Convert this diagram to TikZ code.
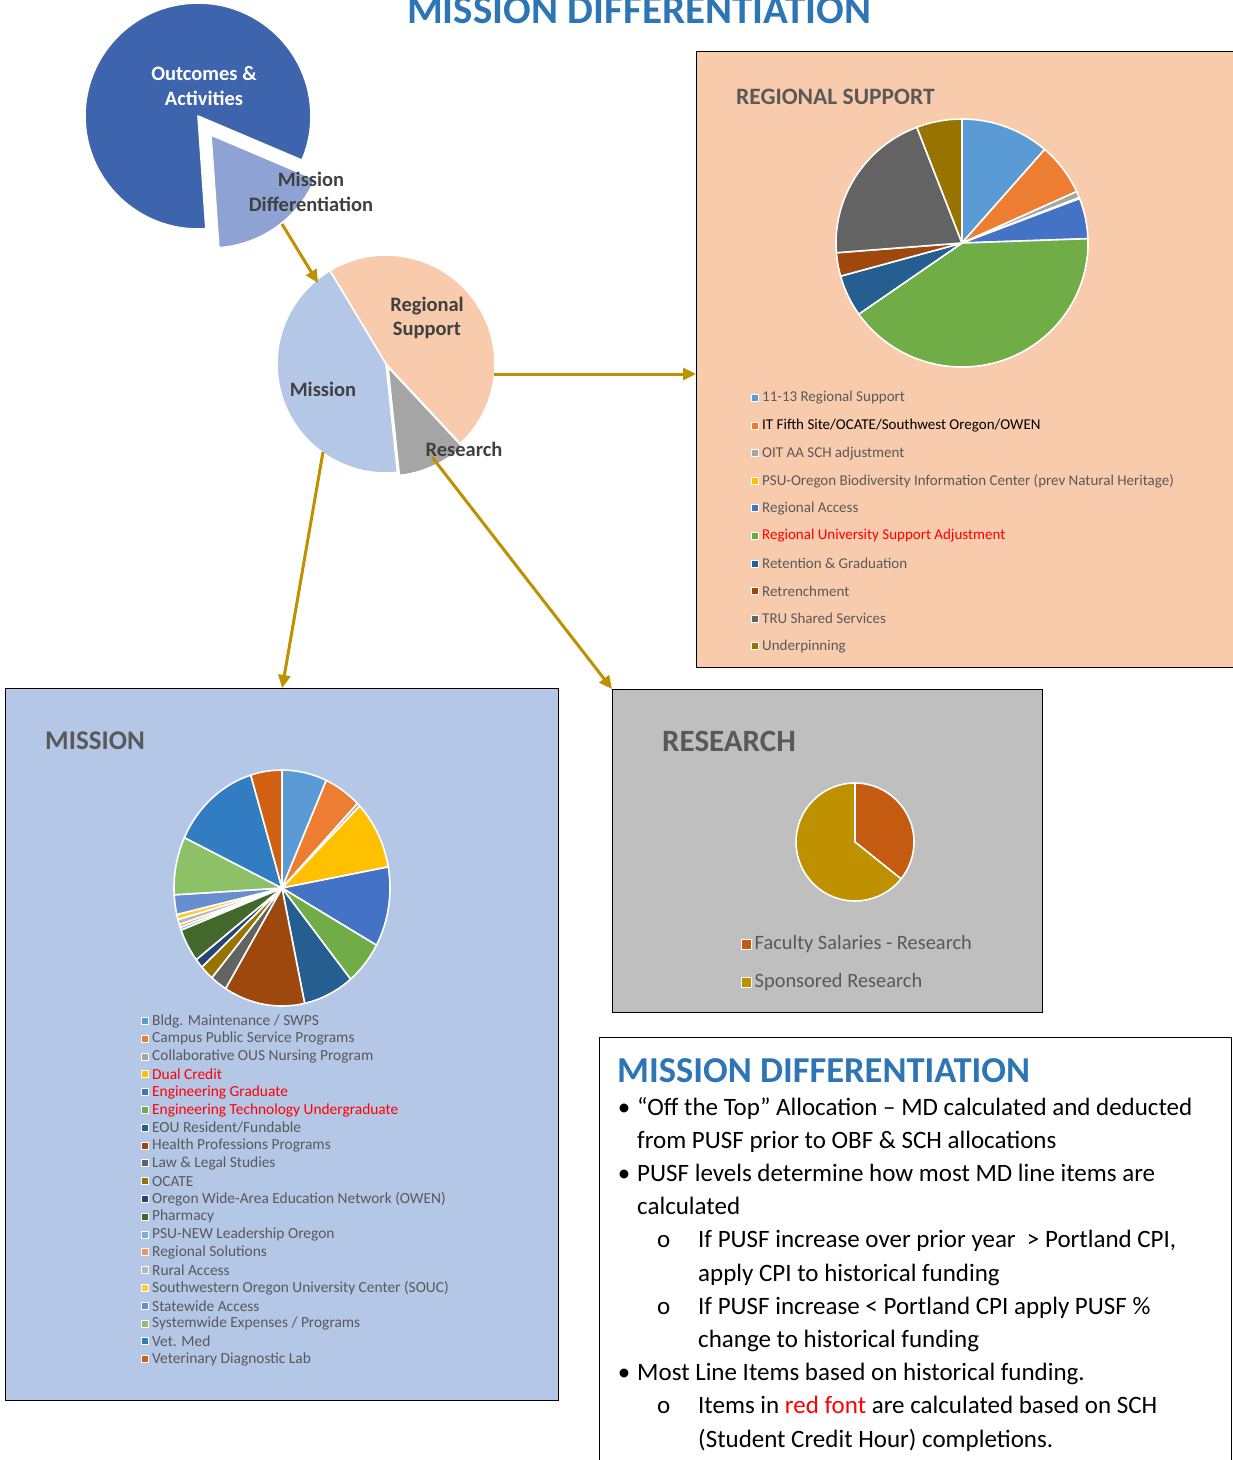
\documentclass[tikz,border=0pt]{standalone}
\usepackage{fontspec}
\setmainfont{Carlito}
\usetikzlibrary{arrows.meta, positioning}

\definecolor{mdblue}{HTML}{2E75B6}
\definecolor{labgray}{HTML}{595959}
\definecolor{darklab}{HTML}{404040}
\definecolor{linkgold}{HTML}{BF9000}
\definecolor{oadark}{HTML}{3D64AD}
\definecolor{mdlight}{HTML}{8FA2D4}
\definecolor{peach}{HTML}{F8CBAD}
\definecolor{misblue}{HTML}{B4C7E7}
\definecolor{resgray}{HTML}{A5A5A5}
\definecolor{boxgray}{HTML}{BFBFBF}
\definecolor{facorange}{HTML}{C55A11}
\definecolor{sponsgold}{HTML}{BF9000}
% chart series colours
\definecolor{c1}{HTML}{5B9BD5}
\definecolor{c2}{HTML}{ED7D31}
\definecolor{c3}{HTML}{A5A5A5}
\definecolor{c4}{HTML}{FFC000}
\definecolor{c5}{HTML}{4472C4}
\definecolor{c6}{HTML}{70AD47}
\definecolor{c7}{HTML}{255E91}
\definecolor{c8}{HTML}{9E480E}
\definecolor{c9}{HTML}{636363}
\definecolor{c10}{HTML}{997300}
\definecolor{c11}{HTML}{264478}
\definecolor{c12}{HTML}{43682B}
\definecolor{c13}{HTML}{7CAFDD}
\definecolor{c14}{HTML}{F1975A}
\definecolor{c15}{HTML}{B7B7B7}
\definecolor{c16}{HTML}{FFCD33}
\definecolor{c17}{HTML}{698ED0}
\definecolor{c18}{HTML}{8CC168}
\definecolor{c19}{HTML}{327DC2}
\definecolor{c20}{HTML}{D26012}

% center, x radius, y radius, start, end, colour
\newcommand{\pieslice}[6]{\fill[slice, fill=#6] (#1) -- ++(#4:#2 and #3) arc[start angle=#4, end angle=#5, x radius=#2, y radius=#3] -- cycle;}

\begin{document}
\begin{tikzpicture}[x=1pt, y=-1pt,
    link/.style={linkgold, line width=3pt, -{Triangle[length=13pt, width=12pt]}},
    box/.style={draw=black, line width=1.3pt, anchor=north west, inner sep=0pt},
    slice/.style={draw=white, line width=1.6pt, line join=round},
    legbox/.style={draw=white, line width=1pt, minimum size=7pt, inner sep=0pt},
    legtext/.style={anchor=west, inner sep=0pt, text=labgray},
    pielab/.style={align=center, text=darklab, font=\bfseries\fontsize{20.5}{24.5}\selectfont},
    boxtitle/.style={anchor=west, inner sep=0pt, text=labgray, font=\bfseries\fontsize{31}{34}\selectfont}]

\useasboundingbox (0,0) rectangle (1233,1460);

\node (title) [anchor=base, inner sep=0pt, text=mdblue, font=\bfseries\fontsize{41}{44}\selectfont] at (639,23) {MISSION DIFFERENTIATION};

% top pie
\coordinate (oapie) at (198,116);
\pieslice{oapie}{113}{113}{86}{383}{oadark}
\coordinate (mdslice) at (211,135);
\pieslice{mdslice}{113}{113}{23}{86}{mdlight}
\node (oalab) [pielab, text=white] at (204,86) {Outcomes \&\\Activities};
\node (mdlab) [pielab] at (311,192) {Mission\\Differentiation};

% middle pie
\coordinate (midpie) at (386,364);
\pieslice{midpie}{109}{109}{-121}{47}{peach}
\pieslice{midpie}{109}{109}{84}{239}{misblue}
\coordinate (respie) at (388,367);
\pieslice{respie}{109}{109}{47}{84}{resgray}
\node (rslab) [pielab] at (427,318) {Regional\\Support};
\node (mislab) [pielab] at (323,389) {Mission};
\node (reslab) [pielab] at (464,449) {Research};

% boxes
\node (regbox) [box, fill=peach, minimum width=545pt, minimum height=616pt] at (696,51) {};
\node (misbox) [box, fill=misblue, minimum width=553pt, minimum height=712pt] at (5,688) {};
\node (resbox) [box, fill=boxgray, minimum width=430pt, minimum height=323pt] at (612,689) {};
\node (mdbox) [box, fill=white, minimum width=632pt, minimum height=440pt] at (599,1037) {};

% regional support
\node (rstitle) [boxtitle, font=\bfseries\fontsize{23.5}{26}\selectfont] at (736,97) {REGIONAL SUPPORT};
\coordinate (rspie) at (962,243);
\foreach \a/\b/\c in {-90/-49/c1, -49/-24.5/c2, -24.5/-21.5/c3, -21.5/-21/c4, -21/-2/c5,
    -2/145/c6, 145/164.5/c7, 164.5/175.5/c8, 175.5/249/c9, 249/270/c10} {
  \pieslice{rspie}{126}{124}{\a}{\b}{\c}
}
\foreach \c/\tc/\txt [count=\i] in {c1/labgray/{11-13 Regional Support},
    c2/black/{IT Fifth Site/OCATE/Southwest Oregon/OWEN},
    c3/labgray/{OIT AA SCH adjustment},
    c4/labgray/{PSU-Oregon Biodiversity Information Center (prev Natural Heritage)},
    c5/labgray/{Regional Access},
    c6/red/{Regional University Support Adjustment},
    c7/labgray/{Retention \& Graduation},
    c8/labgray/{Retrenchment},
    c9/labgray/{TRU Shared Services},
    c10/labgray/{Underpinning}} {
  \node (rsmark\i) [legbox, fill=\c] at (755,{398+27.6*(\i-1)}) {};
  \node (rsleg\i) [legtext, text=\tc, font=\fontsize{15}{17}\selectfont, right=3pt of rsmark\i] {\txt};
}

% mission
\node (mistitle) [boxtitle, font=\bfseries\fontsize{27}{30}\selectfont] at (45,741) {MISSION};
\coordinate (mispie) at (282,888);
\foreach \a/\b/\c in {-90/-65.8/c1, -65.8/-45.7/c2, -45.7/-44/c3, -44/-10.3/c4, -10.3/29/c5,
    29/50.6/c6, 50.6/77.9/c7, 77.9/121.5/c8, 121.5/130.5/c9, 130.5/137.9/c10,
    137.9/142.6/c11, 142.6/159.1/c12, 159.1/160.5/c13, 160.5/162/c14, 162/164.5/c15,
    164.5/167/c16, 167/176.7/c17, 176.7/205.3/c18, 205.3/253.2/c19, 253.2/270/c20} {
  \pieslice{mispie}{108}{118}{\a}{\b}{\c}
}
\foreach \c/\tc/\txt [count=\i] in {c1/labgray/{Bldg. Maintenance / SWPS},
    c2/labgray/{Campus Public Service Programs},
    c3/labgray/{Collaborative OUS Nursing Program},
    c4/red/{Dual Credit},
    c5/red/{Engineering Graduate},
    c6/red/{Engineering Technology Undergraduate},
    c7/labgray/{EOU Resident/Fundable},
    c8/labgray/{Health Professions Programs},
    c9/labgray/{Law \& Legal Studies},
    c10/labgray/{OCATE},
    c11/labgray/{Oregon Wide-Area Education Network (OWEN)},
    c12/labgray/{Pharmacy},
    c13/labgray/{PSU-NEW Leadership Oregon},
    c14/labgray/{Regional Solutions},
    c15/labgray/{Rural Access},
    c16/labgray/{Southwestern Oregon University Center (SOUC)},
    c17/labgray/{Statewide Access},
    c18/labgray/{Systemwide Expenses / Programs},
    c19/labgray/{Vet. Med},
    c20/labgray/{Veterinary Diagnostic Lab}} {
  \node (mismark\i) [legbox, fill=\c] at (145,{1021+17.8*(\i-1)}) {};
  \node (misleg\i) [legtext, text=\tc, font=\fontsize{15.4}{17}\selectfont, right=3pt of mismark\i] {\txt};
}

% research
\node (restitle) [boxtitle] at (662,741) {RESEARCH};
\coordinate (respie2) at (855,842);
\pieslice{respie2}{59}{59}{-90}{38.7}{facorange}
\pieslice{respie2}{59}{59}{38.7}{270}{sponsgold}
\node (facmark) [legbox, minimum size=10pt, fill=facorange] at (746,944) {};
\node (facleg) [legtext, font=\fontsize{20.4}{22}\selectfont, right=3pt of facmark] {Faculty Salaries - Research};
\node (sponmark) [legbox, minimum size=10pt, fill=sponsgold] at (746,982) {};
\node (sponleg) [legtext, font=\fontsize{20.4}{22}\selectfont, right=3pt of sponmark] {Sponsored Research};

% mission differentiation notes
\node (mdhead) [anchor=base west, inner sep=0pt, text=mdblue, font=\bfseries\fontsize{36.5}{40}\selectfont] at (617,1082) {MISSION DIFFERENTIATION};
\foreach \x/\txt [count=\i] in {637/{\llap{\textbullet\hspace{7pt}}“Off the Top” Allocation – MD calculated and deducted},
    637/{from PUSF prior to OBF \& SCH allocations},
    637/{\llap{\textbullet\hspace{7pt}}PUSF levels determine how most MD line items are},
    637/{calculated},
    698/{\llap{o\hspace{28pt}}If PUSF increase over prior year \ > Portland CPI,},
    698/{apply CPI to historical funding},
    698/{\llap{o\hspace{28pt}}If PUSF increase < Portland CPI apply PUSF \%},
    698/{change to historical funding},
    637/{\llap{\textbullet\hspace{7pt}}Most Line Items based on historical funding.},
    698/{\llap{o\hspace{28pt}}Items in \textcolor{red}{red font} are calculated based on SCH},
    698/{(Student Credit Hour) completions.}} {
  \node (mdline\i) [anchor=base west, inner sep=0pt, font=\fontsize{25}{29}\selectfont] at (\x,{1115+33.2*(\i-1)}) {\txt};
}

% connectors
\coordinate (mdout) at (282,224);
\coordinate (midin) at (318,283);
\draw [link] (mdout) -- (midin);
\coordinate (rsout) at (494,374);
\draw [link] (rsout) -- (rsout -| regbox.west);
\coordinate (misout) at (323,452);
\draw [link] (misout) -- (misbox.north);
\coordinate (resout) at (432,457);
\draw [link] (resout) -- (resbox.north west);
\end{tikzpicture}
\end{document}
